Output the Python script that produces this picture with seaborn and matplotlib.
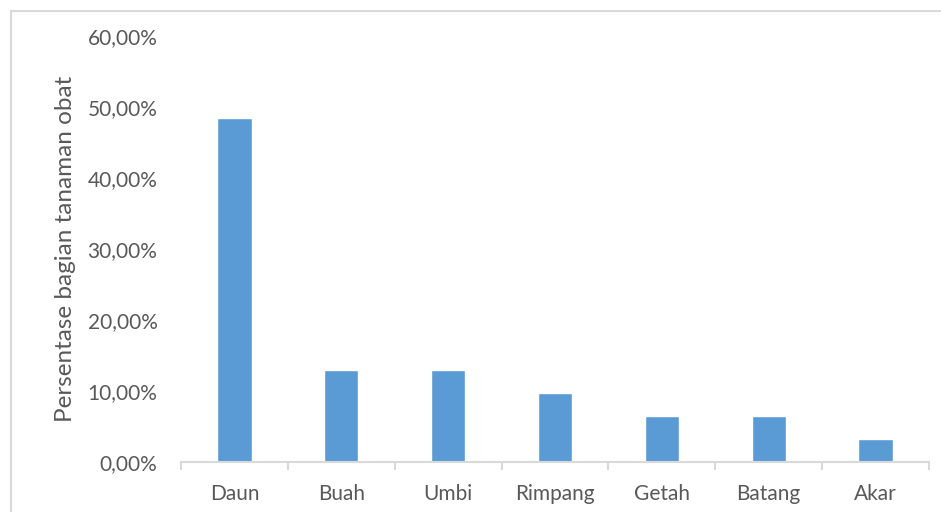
import matplotlib
matplotlib.use("Agg")
import matplotlib.pyplot as plt
import seaborn as sns
import pandas as pd
from matplotlib.lines import Line2D
from matplotlib.ticker import FuncFormatter, FixedLocator

categories = ["Daun", "Buah", "Umbi", "Rimpang", "Getah", "Batang", "Akar"]
percentages = [48.39, 12.90, 12.90, 9.68, 6.45, 6.45, 3.23]
y_ticks = [0, 10, 20, 30, 40, 50, 60]
y_label = "Persentase bagian tanaman obat"

sns.set_theme(style="white")
plt.rcParams["font.family"] = ["Lato", "DejaVu Sans"]

text_color = "#595959"
axis_color = "#D9D9D9"
bar_color = "#5B9BD5"

df = pd.DataFrame({"bagian": categories, "persen": percentages})

fig = plt.figure(figsize=(9.41, 5.12), dpi=100)
ax = fig.add_axes([181 / 941, 50 / 512, 748 / 941, 426 / 512])

sns.barplot(data=df, x="bagian", y="persen", color=bar_color, width=0.32,
            saturation=1, ax=ax)

ax.set_xlim(-0.5, len(categories) - 0.5)
ax.set_ylim(0, 60)
ax.yaxis.set_major_locator(FixedLocator(y_ticks))
ax.yaxis.set_major_formatter(FuncFormatter(lambda v, p: f"{v:.2f}%".replace(".", ",")))

for side in ["top", "right", "left"]:
    ax.spines[side].set_visible(False)
ax.spines["bottom"].set_color(axis_color)
ax.spines["bottom"].set_linewidth(1.5)

ax.tick_params(axis="y", length=0, pad=17, labelsize=15, labelcolor=text_color)
ax.tick_params(axis="x", which="major", length=0, pad=16, labelsize=15,
               labelcolor=text_color)
ax.set_xticks([i - 0.5 for i in range(len(categories) + 1)], minor=True)
ax.tick_params(axis="x", which="minor", length=6, width=1.5, color=axis_color,
               bottom=True)

ax.set_xlabel("")
ax.set_ylabel(y_label, fontsize=17.5, color=text_color, labelpad=8)
ax.grid(False)

# outer chart-area frame (left and top edges)
fig.add_artist(Line2D([10.5 / 941, 10.5 / 941], [0, 1 - 10.5 / 512],
                      transform=fig.transFigure, color=axis_color, lw=1.5))
fig.add_artist(Line2D([10.5 / 941, 1], [1 - 10.5 / 512, 1 - 10.5 / 512],
                      transform=fig.transFigure, color=axis_color, lw=1.5))

fig.savefig("out.png", dpi=100)
